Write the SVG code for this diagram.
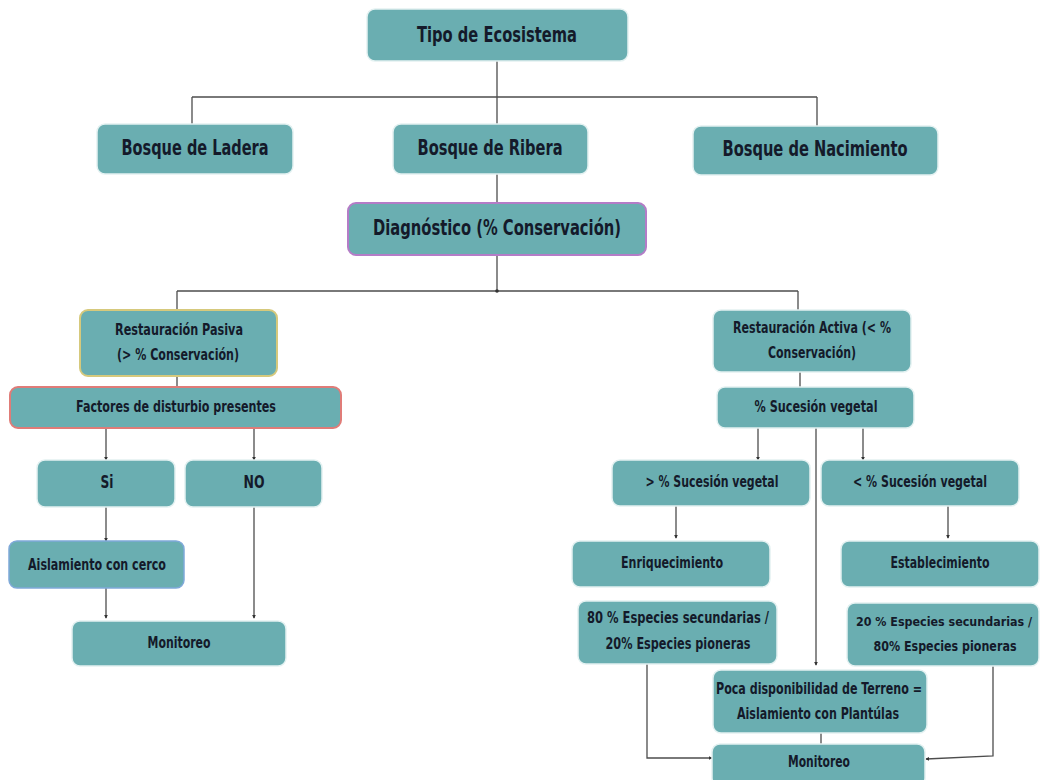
<svg xmlns="http://www.w3.org/2000/svg" width="1041" height="780" viewBox="0 0 1041 780">
<style>
.box{fill:#6aaeb1;stroke:#e3f1f1;stroke-width:1.5}
.t{font-family:"Liberation Sans Narrow","DejaVu Sans Condensed","Liberation Sans",sans-serif;font-weight:bold;fill:#141a2a;text-anchor:middle;font-size:16px}
.big{font-size:21px}
.sm{font-size:15px}
.xs{font-size:14px}
.xxs{font-size:13px}
.c{fill:none;stroke:#4d4d4d;stroke-width:1.3}
.a{marker-end:url(#ah)}
</style>
<defs>
<marker id="ah" viewBox="0 0 6 6" refX="5" refY="3" markerWidth="4" markerHeight="4" orient="auto" markerUnits="userSpaceOnUse">
<path d="M0,0 L6,3 L0,6 z" fill="#333"/>
</marker>
</defs>
<rect width="1041" height="780" fill="#ffffff"/>
<g id="connectors">
<path class="c" d="M497,61 V97 M192,97 H817 M192,97 V124 M497,97 V124 M817,97 V126"/>
<path class="c" d="M497,174 V203"/>
<path class="c" d="M497,255 V291 M177,291 H798 M177,291 V310 M798,291 V310"/>
<circle cx="497" cy="291" r="1.8" fill="#333"/>
<path class="c" d="M177,376 V387"/>
<path class="c a" d="M106,428 V460"/>
<path class="c a" d="M254,428 V460"/>
<path class="c a" d="M106,507 V541"/>
<path class="c a" d="M106,588 V618"/>
<path class="c a" d="M254,507 V618"/>
<path class="c" d="M800,372 V387"/>
<path class="c a" d="M758,428 V460"/>
<path class="c a" d="M863,428 V460"/>
<path class="c a" d="M816,428 V665"/>
<path class="c a" d="M676,506 V538"/>
<path class="c a" d="M948,506 V538"/>
<path class="c" d="M821,733 V744"/>
<path class="c a" d="M647,664 V758 H712"/>
<path class="c a" d="M993,666 V756 L926,759"/>
</g>
<g id="tipo"><rect class="box" x="367" y="9" width="261" height="52" rx="8"/><text class="t big" x="497" y="42" textLength="160" lengthAdjust="spacingAndGlyphs">Tipo de Ecosistema</text></g>
<g id="ladera"><rect class="box" x="97" y="124" width="196" height="50" rx="8"/><text class="t big" x="195" y="155" textLength="147" lengthAdjust="spacingAndGlyphs">Bosque de Ladera</text></g>
<g id="ribera"><rect class="box" x="393" y="124" width="195" height="50" rx="8"/><text class="t big" x="490" y="155" textLength="145" lengthAdjust="spacingAndGlyphs">Bosque de Ribera</text></g>
<g id="nacimiento"><rect class="box" x="693" y="126" width="245" height="49" rx="8"/><text class="t big" x="815" y="156" textLength="185" lengthAdjust="spacingAndGlyphs">Bosque de Nacimiento</text></g>
<g id="diagnostico"><rect class="box" x="348" y="203" width="298" height="52" rx="8" style="stroke:#b47cc7;stroke-width:2"/><text class="t big" x="497" y="235" textLength="248" lengthAdjust="spacingAndGlyphs">Diagnóstico (% Conservación)</text></g>
<g id="pasiva"><rect class="box" x="80" y="310" width="197" height="66" rx="8" style="stroke:#d6c97c;stroke-width:2"/><text class="t sm" x="179" y="335" textLength="128" lengthAdjust="spacingAndGlyphs">Restauración Pasiva</text><text class="t sm" x="178" y="360" textLength="122" lengthAdjust="spacingAndGlyphs">(&gt; % Conservación)</text></g>
<g id="factores"><rect class="box" x="10" y="387" width="331" height="41" rx="8" style="stroke:#e07c78;stroke-width:2"/><text class="t" x="176" y="412" textLength="200" lengthAdjust="spacingAndGlyphs">Factores de disturbio presentes</text></g>
<g id="si"><rect class="box" x="37" y="460" width="138" height="47" rx="8"/><text class="t" x="107" y="488" style="font-size:18px" textLength="13" lengthAdjust="spacingAndGlyphs">Si</text></g>
<g id="no"><rect class="box" x="185" y="460" width="137" height="47" rx="8"/><text class="t" x="254" y="488" style="font-size:18px" textLength="21" lengthAdjust="spacingAndGlyphs">NO</text></g>
<g id="aislamiento"><rect class="box" x="9" y="541" width="175" height="47" rx="8" style="stroke:#7fa9d9;stroke-width:1.5"/><text class="t" x="97" y="570" textLength="138" lengthAdjust="spacingAndGlyphs">Aislamiento con cerco</text></g>
<g id="monitoreo1"><rect class="box" x="72" y="621" width="214" height="45" rx="8"/><text class="t" x="179" y="648" textLength="63" lengthAdjust="spacingAndGlyphs">Monitoreo</text></g>
<g id="activa"><rect class="box" x="713" y="310" width="198" height="62" rx="8"/><text class="t sm" x="812" y="333" textLength="158" lengthAdjust="spacingAndGlyphs">Restauración Activa (&lt; %</text><text class="t sm" x="812" y="358" textLength="88" lengthAdjust="spacingAndGlyphs">Conservación)</text></g>
<g id="sucesion"><rect class="box" x="717" y="387" width="197" height="41" rx="8"/><text class="t" x="816" y="412" textLength="123" lengthAdjust="spacingAndGlyphs">% Sucesión vegetal</text></g>
<g id="mayor"><rect class="box" x="612" y="460" width="198" height="46" rx="8"/><text class="t" x="712" y="487" textLength="133" lengthAdjust="spacingAndGlyphs">&gt; % Sucesión vegetal</text></g>
<g id="menor"><rect class="box" x="821" y="460" width="198" height="46" rx="8"/><text class="t" x="920" y="487" textLength="134" lengthAdjust="spacingAndGlyphs">&lt; % Sucesión vegetal</text></g>
<g id="enriquecimiento"><rect class="box" x="572" y="541" width="198" height="46" rx="8"/><text class="t" x="672" y="568" textLength="102" lengthAdjust="spacingAndGlyphs">Enriquecimiento</text></g>
<g id="establecimiento"><rect class="box" x="841" y="541" width="198" height="46" rx="8"/><text class="t" x="940" y="568" textLength="99" lengthAdjust="spacingAndGlyphs">Establecimiento</text></g>
<g id="especies80"><rect class="box" x="578" y="601" width="199" height="63" rx="8"/><text class="t sm" x="678" y="623" textLength="182" lengthAdjust="spacingAndGlyphs">80 % Especies secundarias /</text><text class="t sm" x="678" y="649" textLength="145" lengthAdjust="spacingAndGlyphs">20% Especies pioneras</text></g>
<g id="especies20"><rect class="box" x="847" y="603" width="192" height="63" rx="8"/><text class="t xxs" x="944" y="626" textLength="176" lengthAdjust="spacingAndGlyphs">20 % Especies secundarias /</text><text class="t xs" x="945" y="651" textLength="143" lengthAdjust="spacingAndGlyphs">80% Especies pioneras</text></g>
<g id="poca"><rect class="box" x="713" y="670" width="214" height="63" rx="8"/><text class="t sm" x="819" y="694" textLength="206" lengthAdjust="spacingAndGlyphs">Poca disponibilidad de Terreno =</text><text class="t sm" x="818" y="719" textLength="162" lengthAdjust="spacingAndGlyphs">Aislamiento con Plantúlas</text></g>
<g id="monitoreo2"><rect class="box" x="712" y="744" width="213" height="42" rx="8"/><text class="t" x="819" y="767" textLength="62" lengthAdjust="spacingAndGlyphs">Monitoreo</text></g>
</svg>
